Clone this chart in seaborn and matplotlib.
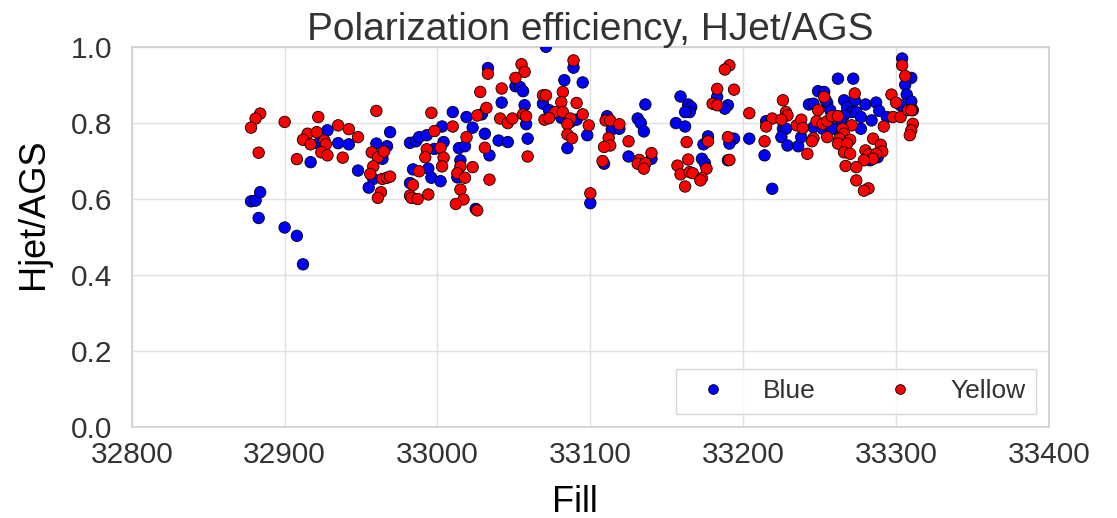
import matplotlib
matplotlib.use("Agg")
import matplotlib.pyplot as plt
import numpy as np
import pandas as pd
import seaborn as sns

# Polarization efficiency ratio per RHIC fill, blue and yellow beams
blue_fill = [
    32878, 32881, 32884, 32883, 32900, 32908, 32912, 32917, 32928, 32922,
    32935, 32942, 32948, 32969, 32960, 32967, 32964, 32958, 32955, 32982,
    32986, 32988, 32993, 33003, 33004, 32998, 32984, 32994, 32996, 33002,
    32982, 33010, 33019, 33023, 33014, 33018, 33013, 33015, 33025, 33071,
    33033, 33051, 33054, 33056, 33042, 33057, 33029, 33031, 33040, 33046,
    33059, 33058, 33034, 33089, 33083, 33095, 33069, 33073, 33081, 33087,
    33091, 33098, 33085, 33100, 33136, 33111, 33131, 33133, 33135, 33114,
    33119, 33125, 33140, 33109, 33159, 33164, 33166, 33165, 33162, 33156,
    33162, 33177, 33174, 33173, 33175, 33183, 33190, 33188, 33194, 33191,
    33190, 33204, 33214, 33219, 33215, 33226, 33228, 33225, 33229, 33236,
    33238, 33243, 33246, 33249, 33253, 33255, 33257, 33246, 33252, 33259,
    33262, 33272, 33304, 33310, 33306, 33307, 33310, 33311, 33254, 33266,
    33273, 33280, 33287, 33289, 33268, 33271, 33274, 33266, 33264, 33277,
    33284, 33294, 33258, 33277, 33303, 33288, 33283,
]
blue_ratio = [
    0.594, 0.596, 0.618, 0.550, 0.525, 0.503, 0.428, 0.697, 0.781, 0.746,
    0.747, 0.744, 0.675, 0.776, 0.746, 0.739, 0.706, 0.653, 0.630, 0.748,
    0.752, 0.763, 0.768, 0.791, 0.750, 0.732, 0.678, 0.680, 0.656, 0.647,
    0.642, 0.829, 0.816, 0.788, 0.734, 0.739, 0.657, 0.702, 0.574, 1.001,
    0.945, 0.897, 0.895, 0.884, 0.854, 0.847, 0.823, 0.772, 0.754, 0.750,
    0.759, 0.797, 0.715, 0.946, 0.913, 0.907, 0.851, 0.834, 0.814, 0.803,
    0.809, 0.768, 0.734, 0.589, 0.849, 0.818, 0.812, 0.800, 0.778, 0.783,
    0.785, 0.712, 0.706, 0.693, 0.870, 0.849, 0.842, 0.829, 0.829, 0.800,
    0.791, 0.765, 0.744, 0.706, 0.694, 0.869, 0.847, 0.838, 0.759, 0.746,
    0.702, 0.759, 0.715, 0.627, 0.805, 0.785, 0.785, 0.763, 0.741, 0.739,
    0.763, 0.849, 0.851, 0.884, 0.882, 0.853, 0.834, 0.789, 0.785, 0.785,
    0.917, 0.917, 0.970, 0.919, 0.901, 0.875, 0.857, 0.834, 0.860, 0.860,
    0.860, 0.849, 0.854, 0.832, 0.842, 0.829, 0.829, 0.820, 0.807, 0.816,
    0.807, 0.816, 0.787, 0.785, 0.847, 0.710, 0.702,
]

yellow_fill = [
    32884, 32881, 32878, 32883, 32900, 32922, 32915, 32912, 32917, 32921,
    32926, 32927, 32924, 32928, 32908, 32935, 32942, 32948, 32938, 32960,
    32996, 32957, 32961, 32965, 32958, 32956, 32964, 32967, 32969, 32963,
    32961, 32993, 32992, 32988, 32998, 33002, 33004, 33003, 32984, 32982,
    32983, 32987, 32994, 33010, 33019, 33015, 33013, 33018, 33023, 33015,
    33017, 33012, 33026, 33028, 33026, 33033, 33055, 33057, 33051, 33042,
    33032, 33041, 33046, 33049, 33056, 33058, 33031, 33059, 33034, 33089,
    33069, 33071, 33082, 33081, 33091, 33077, 33082, 33070, 33073, 33087,
    33095, 33085, 33099, 33085, 33088, 33100, 33110, 33113, 33119, 33112,
    33113, 33109, 33125, 33108, 33140, 33132, 33131, 33136, 33135, 33163,
    33177, 33164, 33157, 33159, 33165, 33167, 33176, 33173, 33172, 33162,
    33183, 33180, 33183, 33191, 33188, 33194, 33190, 33191, 33204, 33226,
    33219, 33215, 33214, 33228, 33229, 33225, 33235, 33238, 33239, 33246,
    33245, 33242, 33249, 33248, 33253, 33252, 33255, 33258, 33255, 33304,
    33306, 33273, 33297, 33300, 33262, 33271, 33292, 33298, 33303, 33308,
    33310, 33311, 33310, 33309, 33265, 33266, 33263, 33262, 33270, 33268,
    33266, 33270, 33285, 33290, 33280, 33291, 33282, 33287, 33285, 33279,
    33267, 33274, 33274, 33282, 33279,
]
yellow_ratio = [
    0.825, 0.812, 0.788, 0.722, 0.803, 0.816, 0.772, 0.756, 0.744, 0.776,
    0.754, 0.744, 0.723, 0.715, 0.705, 0.794, 0.784, 0.763, 0.709, 0.832,
    0.827, 0.723, 0.710, 0.725, 0.686, 0.666, 0.653, 0.656, 0.659, 0.618,
    0.603, 0.731, 0.710, 0.673, 0.779, 0.735, 0.709, 0.686, 0.637, 0.609,
    0.603, 0.600, 0.612, 0.791, 0.763, 0.686, 0.668, 0.656, 0.684, 0.625,
    0.599, 0.587, 0.570, 0.882, 0.820, 0.930, 0.955, 0.935, 0.919, 0.891,
    0.840, 0.812, 0.800, 0.812, 0.823, 0.818, 0.735, 0.712, 0.651, 0.965,
    0.873, 0.873, 0.882, 0.855, 0.853, 0.829, 0.829, 0.809, 0.813, 0.812,
    0.823, 0.797, 0.794, 0.770, 0.760, 0.615, 0.807, 0.807, 0.797, 0.761,
    0.741, 0.737, 0.752, 0.700, 0.721, 0.703, 0.693, 0.694, 0.680, 0.750,
    0.752, 0.704, 0.688, 0.665, 0.671, 0.668, 0.680, 0.655, 0.649, 0.633,
    0.890, 0.851, 0.847, 0.952, 0.941, 0.888, 0.763, 0.703, 0.826, 0.860,
    0.812, 0.791, 0.752, 0.829, 0.820, 0.809, 0.794, 0.809, 0.787, 0.760,
    0.752, 0.719, 0.834, 0.805, 0.869, 0.798, 0.805, 0.818, 0.763, 0.952,
    0.924, 0.878, 0.875, 0.854, 0.818, 0.794, 0.791, 0.816, 0.816, 0.834,
    0.834, 0.798, 0.781, 0.768, 0.785, 0.772, 0.759, 0.746, 0.756, 0.746,
    0.723, 0.719, 0.759, 0.743, 0.728, 0.725, 0.717, 0.719, 0.706, 0.702,
    0.687, 0.684, 0.649, 0.628, 0.622,
]

beams = ["Blue", "Yellow"]
beam_colors = {"Blue": "#0000ff", "Yellow": "#ff0000"}
x_ticks = [32800, 32900, 33000, 33100, 33200, 33300, 33400]
y_ticks = [0.0, 0.2, 0.4, 0.6, 0.8, 1.0]

df = pd.concat([
    pd.DataFrame({"Fill": blue_fill, "Ratio": blue_ratio, "Beam": "Blue"}),
    pd.DataFrame({"Fill": yellow_fill, "Ratio": yellow_ratio, "Beam": "Yellow"}),
], ignore_index=True)

sns.set_theme(style="whitegrid")
plt.rcParams["font.family"] = ["Liberation Sans", "DejaVu Sans"]
plt.rcParams["axes.edgecolor"] = "#d0d0d0"
plt.rcParams["grid.color"] = "#e0e0e0"

fig = plt.figure(figsize=(11.17, 5.18), dpi=100)
ax = fig.add_axes([0.118, 0.176, 0.821, 0.733])

sns.scatterplot(data=df, x="Fill", y="Ratio", hue="Beam", hue_order=beams,
                palette=beam_colors, s=68, edgecolor="black", linewidth=0.6,
                ax=ax, zorder=3)

ax.set_xlim(32800, 33400)
ax.set_ylim(0.0, 1.0)
ax.set_xticks(x_ticks)
ax.set_yticks(y_ticks)
ax.set_xticklabels([str(t) for t in x_ticks])
ax.set_yticklabels([f"{t:.1f}" for t in y_ticks])
ax.tick_params(axis="x", labelsize=21.5, pad=4, colors="#333333")
ax.tick_params(axis="y", labelsize=21.5, pad=8, colors="#333333")
ax.set_xlabel("Fill", fontsize=26, color="black")
ax.set_ylabel("Hjet/AGS", fontsize=26, color="black")
ax.xaxis.set_label_coords(0.483, -0.153)
ax.yaxis.set_label_coords(-0.088, 0.56)
ax.set_title("Polarization efficiency, HJet/AGS", fontsize=28, color="#333333", pad=5)
for sp in ax.spines.values():
    sp.set_color("#d0d0d0")

handles, labels = ax.get_legend_handles_labels()
leg = ax.legend(handles, labels, loc="lower right", ncol=2, fontsize=19,
                frameon=True, fancybox=False, columnspacing=2.2,
                handletextpad=0.9, markerscale=0.85)
leg.get_frame().set_edgecolor("#cccccc")
leg.get_frame().set_linewidth(1.0)
for t in leg.get_texts():
    t.set_color("#333333")

fig.savefig("out.png", dpi=100)
